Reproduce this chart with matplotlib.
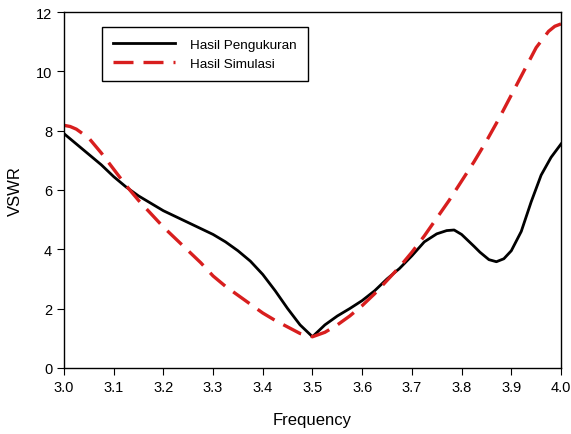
import matplotlib
matplotlib.use("Agg")
import matplotlib.pyplot as plt

plt.rcParams["font.family"] = ["Liberation Sans", "DejaVu Sans"]

# Hasil Pengukuran (measured)
freq_meas = [3.000, 3.025, 3.050, 3.075, 3.100, 3.125, 3.150, 3.175, 3.200, 3.225,
             3.250, 3.275, 3.300, 3.325, 3.350, 3.375, 3.400, 3.425, 3.450, 3.475,
             3.500, 3.525, 3.550, 3.575, 3.600, 3.625, 3.650, 3.675, 3.700, 3.725,
             3.750, 3.770, 3.785, 3.800, 3.810, 3.825, 3.837, 3.855, 3.870, 3.885,
             3.900, 3.920, 3.940, 3.960, 3.980, 4.000]
vswr_meas = [7.90, 7.55, 7.20, 6.85, 6.45, 6.10, 5.80, 5.55, 5.30, 5.10,
             4.90, 4.70, 4.50, 4.25, 3.95, 3.60, 3.15, 2.60, 2.00, 1.45,
             1.05, 1.45, 1.75, 2.00, 2.27, 2.60, 3.00, 3.35, 3.78, 4.25,
             4.52, 4.63, 4.65, 4.50, 4.34, 4.10, 3.90, 3.65, 3.58, 3.68,
             3.95, 4.60, 5.60, 6.50, 7.10, 7.55]

# Hasil Simulasi (simulated)
freq_sim = [3.000, 3.0125, 3.025, 3.050, 3.075, 3.100, 3.125, 3.150, 3.175, 3.200,
            3.225, 3.250, 3.275, 3.300, 3.325, 3.350, 3.375, 3.400, 3.425, 3.450,
            3.475, 3.500, 3.525, 3.550, 3.575, 3.600, 3.625, 3.650, 3.675, 3.700,
            3.725, 3.750, 3.775, 3.800, 3.825, 3.850, 3.875, 3.900, 3.925, 3.950,
            3.975, 3.9875, 4.000]
vswr_sim = [8.18, 8.14, 8.05, 7.75, 7.25, 6.70, 6.15, 5.65, 5.20, 4.75,
            4.35, 3.95, 3.55, 3.10, 2.75, 2.45, 2.15, 1.85, 1.60, 1.38,
            1.16, 1.05, 1.20, 1.45, 1.75, 2.10, 2.50, 2.95, 3.40, 3.90,
            4.45, 5.05, 5.65, 6.30, 6.95, 7.65, 8.40, 9.20, 10.00, 10.80,
            11.35, 11.52, 11.60]

fig = plt.figure(figsize=(5.71, 4.35), dpi=100)
ax = fig.add_axes([0.112, 0.152, 0.8705, 0.818])

ax.plot(freq_meas, vswr_meas, color="black", lw=2, label="Hasil Pengukuran")
ax.plot(freq_sim, vswr_sim, color="#d81e1e", lw=2.4, dashes=(6, 3),
        label="Hasil Simulasi")

ax.set_xlim(3.0, 4.0)
ax.set_ylim(0, 12)
ax.set_xticks([3.0, 3.1, 3.2, 3.3, 3.4, 3.5, 3.6, 3.7, 3.8, 3.9, 4.0])
ax.set_yticks([0, 2, 4, 6, 8, 10, 12])
ax.tick_params(direction="out", length=5, labelsize=10.5, top=False, right=False)
ax.set_xlabel("Frequency", fontsize=12, labelpad=13)
ax.set_ylabel("VSWR", fontsize=12, labelpad=9)

for s in ax.spines.values():
    s.set_linewidth(1)

leg = ax.legend(loc="upper left", bbox_to_anchor=(0.0765, 0.958), borderaxespad=0,
                fancybox=False, edgecolor="black", framealpha=1, fontsize=9.7,
                handlelength=4.6, handletextpad=1.1, labelspacing=0.5,
                borderpad=0.85)
leg.get_frame().set_linewidth(1)

fig.savefig("out.png", dpi=100)
